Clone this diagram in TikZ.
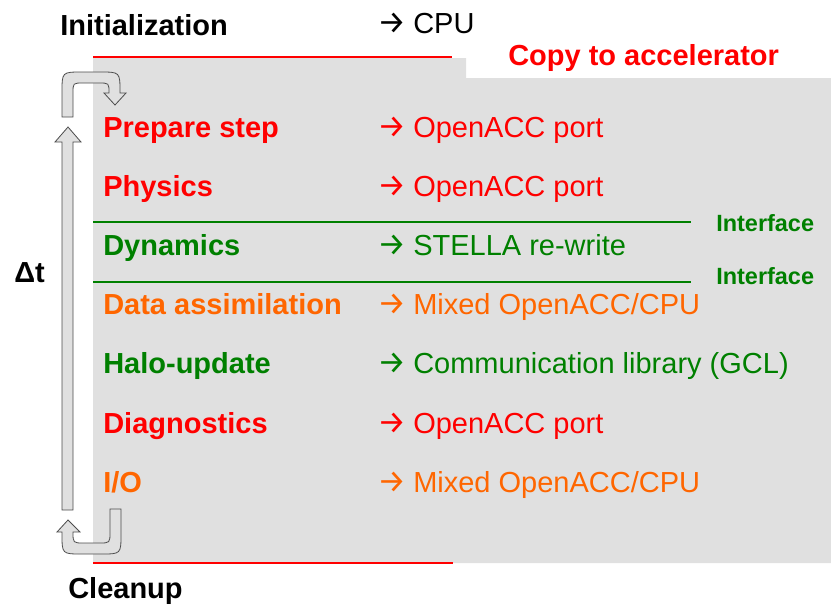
\documentclass[tikz,border=0pt]{standalone}
\usepackage{fontspec}
\setmainfont{Liberation Sans}
\newfontfamily\arrowfont{Fira Sans}
\usetikzlibrary{arrows,backgrounds,shapes.geometric}

\definecolor{accred}{RGB}{255,0,0}
\definecolor{accgreen}{RGB}{0,128,0}
\definecolor{accorange}{RGB}{255,102,0}
\definecolor{panelgray}{RGB}{224,224,224}

% arrow in front of each porting note, fixed width so the notes line up
\newcommand{\portto}{\makebox[27pt][l]{\arrowfont\fontsize{24}{26}\selectfont →}}

\begin{document}
\begin{tikzpicture}[x=0.75pt,y=-0.75pt]
\tikzstyle{step_lbl} = [anchor=base west, inner sep=0pt,
font=\fontsize{21.75}{26}\selectfont\bfseries]
\tikzstyle{port_lbl} = [anchor=base west, inner sep=0pt,
font=\fontsize{21.75}{26}\selectfont]
\tikzstyle{iface} = [anchor=base west, inner sep=0pt, text=accgreen,
font=\fontsize{17.6}{20}\selectfont\bfseries]
\tikzstyle{sep_red} = [draw=accred, line width=2.2pt]
\tikzstyle{sep_green} = [draw=accgreen, line width=2.2pt]
\tikzstyle{cycle_arrow} = [draw=black!70, fill=black!12, line width=0.6pt]
\useasboundingbox (0,0) rectangle (831,608);

% accelerator panel
\fill[panelgray] (93,58) -- (466,58) -- (466,78) -- (831,78)
  -- (831,563) -- (93,563) -- cycle;
\path[sep_red] (93,57) -- (452,57);
\path[sep_red] (93,563) -- (453,563);
\path[sep_green] (93,222) -- (691,222);
\path[sep_green] (93,282) -- (691,282);

% header
\node [step_lbl] (init) at (60,35) {Initialization};
\node [port_lbl] (cpu) at (377,33) {\portto CPU};
\node [step_lbl, text=accred] (copy) at (508,65) {Copy to accelerator};

% row 1
\node [step_lbl, text=accred] (prep) at (103,137) {Prepare step};
\node [port_lbl, text=accred] (prep_port) at (377,137) {\portto OpenACC port};
% row 2
\node [step_lbl, text=accred] (phys) at (103,196) {Physics};
\node [port_lbl, text=accred] (phys_port) at (377,196) {\portto OpenACC port};
% row 3
\node [step_lbl, text=accgreen] (dyn) at (103,255) {Dynamics};
\node [port_lbl, text=accgreen] (dyn_port) at (377,255) {\portto STELLA re-write};
% row 4
\node [step_lbl, text=accorange] (assim) at (103,314) {Data assimilation};
\node [port_lbl, text=accorange] (assim_port) at (377,314) {\portto Mixed OpenACC/CPU};
% row 5
\node [step_lbl, text=accgreen] (halo) at (103,373) {Halo-update};
\node [port_lbl, text=accgreen] (halo_port) at (377,373) {\portto Communication library (GCL)};
% row 6
\node [step_lbl, text=accred] (diag) at (103,433) {Diagnostics};
\node [port_lbl, text=accred] (diag_port) at (377,433) {\portto OpenACC port};
% row 7
\node [step_lbl, text=accorange] (io) at (103,492) {I/O};
\node [port_lbl, text=accorange] (io_port) at (377,492) {\portto Mixed OpenACC/CPU};

\node [iface] (iface_top) at (716,231) {Interface};
\node [iface] (iface_bot) at (716,284) {Interface};

% time loop
\node [step_lbl] (dt) at (14,282) {Δt};
\node [step_lbl] (cleanup) at (68,598) {Cleanup};

\path[cycle_arrow] (62,510) -- (62,142) -- (55,142) -- (68,127)
  -- (81,142) -- (73,142) -- (73,510) -- cycle;
\path[cycle_arrow] (62,117) -- (62,92) .. controls (62,72) .. (82,72)
  -- (100,72) .. controls (120,72) .. (120,92) -- (120,93) -- (126,93)
  -- (115,105) -- (104,93) -- (109,93) .. controls (109,83) .. (99,83)
  -- (83,83) .. controls (73,83) .. (73,93) -- (73,117) -- cycle;
\path[cycle_arrow] (110,509) -- (121,509) -- (121,534)
  .. controls (121,554) .. (101,554) -- (82,554) .. controls (62,554) .. (62,534)
  -- (62,532) -- (57,532) -- (68,520) -- (80,532) -- (73,532)
  .. controls (73,543) .. (84,543) -- (99,543) .. controls (110,543) .. (110,532)
  -- cycle;
\end{tikzpicture}
\end{document}
